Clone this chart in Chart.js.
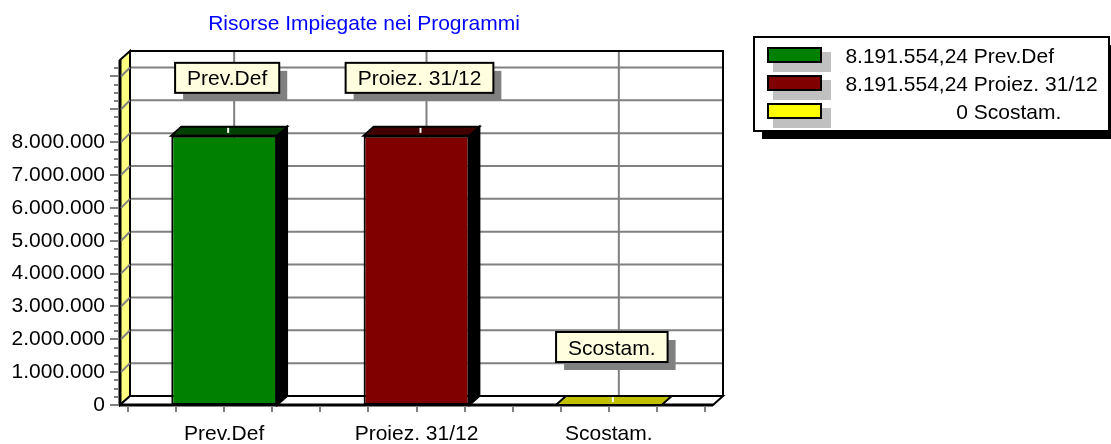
<!DOCTYPE html>
<html>
<head>
<meta charset="utf-8">
<script src="https://cdn.jsdelivr.net/npm/chart.js@4/dist/chart.umd.min.js"></script>
<style>
  html, body { margin: 0; padding: 0; background: #fff; }
  #wrap { width: 1111px; height: 444px; }
</style>
</head>
<body>
<div id="wrap"><canvas id="risorseChart" width="1111" height="444"></canvas></div>
<script>
const TITLE = 'Risorse Impiegate nei Programmi';
const categories = ['Prev.Def', 'Proiez. 31/12', 'Scostam.'];
const values = [8191554.24, 8191554.24, 0];
const frontColors = ['#008000', '#800000', '#ffff00'];
const topColors = ['#004000', '#400000', '#c0c000'];
const yMax = 10500000;
const yStep = 1000000;
const lastLabeledTick = 8000000;

const FONT = '"Liberation Sans", Arial, sans-serif';
const DX = 10, DY = -9;   // profondità 3D

// 8191554.24 -> "8.191.554,24"
function fmtIt(v, dec) {
  const parts = v.toFixed(dec).split('.');
  parts[0] = parts[0].replace(/\B(?=(\d{3})+(?!\d))/g, '.');
  return parts.join(',');
}

function poly(ctx, pts, fill, stroke, lw) {
  ctx.beginPath();
  ctx.moveTo(pts[0][0], pts[0][1]);
  for (let i = 1; i < pts.length; i++) ctx.lineTo(pts[i][0], pts[i][1]);
  ctx.closePath();
  if (fill) { ctx.fillStyle = fill; ctx.fill(); }
  if (stroke) { ctx.strokeStyle = stroke; ctx.lineWidth = lw || 2; ctx.stroke(); }
}

const box3d = {
  id: 'box3d',
  beforeDatasetsDraw(chart) {
    const { ctx, chartArea: a, scales: { x, y } } = chart;
    const fl = a.left - 8, fr = a.right + 8;
    const fb = y.getPixelForValue(0), ft = y.getPixelForValue(yMax);
    ctx.save();
    ctx.lineCap = 'butt';

    // parete di fondo
    ctx.fillStyle = '#fff';
    ctx.fillRect(fl + DX, ft + DY, fr - fl, fb - ft);

    // griglia orizzontale (fondo)
    ctx.strokeStyle = '#808080';
    ctx.lineWidth = 2;
    for (let v = yStep; v <= yMax; v += yStep) {
      const py = y.getPixelForValue(v);
      ctx.beginPath();
      ctx.moveTo(fl + DX, py + DY);
      ctx.lineTo(fr + DX, py + DY);
      ctx.stroke();
    }
    // griglia verticale
    categories.forEach((c, i) => {
      const px = x.getPixelForValue(i) + DX;
      ctx.beginPath();
      ctx.moveTo(px, ft + DY);
      ctx.lineTo(px, fb + DY);
      ctx.stroke();
    });

    // bordo parete di fondo
    ctx.strokeStyle = '#000';
    ctx.lineWidth = 2;
    ctx.beginPath();
    ctx.moveTo(fl + DX, ft + DY);
    ctx.lineTo(fr + DX, ft + DY);
    ctx.lineTo(fr + DX, fb + DY);
    ctx.stroke();

    // parete sinistra
    poly(ctx, [[fl, ft], [fl + DX, ft + DY], [fl + DX, fb + DY], [fl, fb]], '#ffff80', '#000', 2);
    ctx.lineWidth = 3;
    ctx.beginPath(); ctx.moveTo(fl, ft); ctx.lineTo(fl, fb); ctx.stroke();
    // griglia sulla parete sinistra
    ctx.strokeStyle = '#808080';
    ctx.lineWidth = 2;
    for (let v = yStep; v <= yMax; v += yStep) {
      const py = y.getPixelForValue(v);
      ctx.beginPath(); ctx.moveTo(fl + 1, py); ctx.lineTo(fl + DX, py + DY); ctx.stroke();
    }

    // pavimento
    poly(ctx, [[fl, fb], [fl + DX, fb + DY], [fr + DX, fb + DY], [fr, fb]], '#fff', '#000', 2);
    ctx.lineWidth = 3;
    ctx.beginPath(); ctx.moveTo(fl - 1, fb); ctx.lineTo(fr, fb); ctx.stroke();

    // tacche asse y
    ctx.strokeStyle = '#808080';
    ctx.lineWidth = 2;
    for (let v = 0; v < yMax; v += yStep / 4) {
      const py = Math.round(y.getPixelForValue(v));
      const len = v % yStep === 0 ? 10 : 6;
      ctx.beginPath(); ctx.moveTo(fl - len, py); ctx.lineTo(fl - 1, py); ctx.stroke();
    }
    // tacche asse x
    const catW = (a.right - a.left) / categories.length;
    const xt = [];
    categories.forEach((c, i) => {
      const left = x.getPixelForValue(i) - catW / 2;
      for (let k = 0; k < 4; k++) xt.push(left + k * catW / 4);
    });
    xt.push(a.right);
    xt.forEach(px => {
      ctx.beginPath(); ctx.moveTo(Math.round(px), fb + 2); ctx.lineTo(Math.round(px), fb + 7); ctx.stroke();
    });
    ctx.restore();
  },

  afterDatasetsDraw(chart) {
    const { ctx } = chart;
    const meta = chart.getDatasetMeta(0);
    ctx.save();
    meta.data.forEach((bar, i) => {
      const { x, y: top, base, width } = bar.getProps(['x', 'y', 'base', 'width'], true);
      const l = x - width / 2, r = x + width / 2;
      if (base - top > 1) {
        poly(ctx, [[r, top], [r + DX, top + DY], [r + DX, base + DY], [r, base]], '#000', '#000', 2);
      }
      poly(ctx, [[l, top], [l + DX, top + DY], [r + DX, top + DY], [r, top]], topColors[i], '#000', 2);
      // piccolo segno bianco sul tetto
      ctx.strokeStyle = '#fff';
      ctx.lineWidth = 2;
      ctx.beginPath(); ctx.moveTo(x + 4, top + DY + 1); ctx.lineTo(x + 4, top - 3); ctx.stroke();

      // etichetta
      ctx.font = '21px ' + FONT;
      const tw = ctx.measureText(categories[i]).width;
      const bw = tw + 24, bh = 30;
      const cx = x + 3;
      const by = top - 43 - bh, bx = cx - bw / 2;
      ctx.fillStyle = '#808080';
      ctx.fillRect(bx + 8, by + 8, bw, bh);
      ctx.fillStyle = '#ffffe0';
      ctx.fillRect(bx, by, bw, bh);
      ctx.strokeStyle = '#000';
      ctx.lineWidth = 2;
      ctx.strokeRect(bx, by, bw, bh);
      ctx.fillStyle = '#000';
      ctx.textAlign = 'center';
      ctx.textBaseline = 'alphabetic';
      ctx.fillText(categories[i], cx, by + bh / 2 + 7.5);
    });
    ctx.restore();
  },

  afterDraw(chart) {
    const { ctx } = chart;
    ctx.save();
    // titolo
    ctx.font = '21px ' + FONT;
    ctx.fillStyle = '#0000ff';
    ctx.textAlign = 'center';
    ctx.textBaseline = 'alphabetic';
    ctx.fillText(TITLE, 364, 29.5);

    // legenda
    const lx = 754, ly = 37, lw = 355, lh = 94;
    ctx.fillStyle = '#000';
    ctx.fillRect(lx + 8, ly + 8, lw, lh);
    ctx.fillStyle = '#fff';
    ctx.fillRect(lx, ly, lw, lh);
    ctx.strokeStyle = '#000';
    ctx.lineWidth = 2;
    ctx.strokeRect(lx, ly, lw, lh);
    categories.forEach((c, i) => {
      const cy = 55 + i * 28;
      ctx.fillStyle = '#c0c0c0';
      ctx.fillRect(773, cy - 3, 58, 20);
      ctx.fillStyle = frontColors[i];
      ctx.fillRect(768, cy - 7, 53, 14);
      ctx.strokeStyle = '#000';
      ctx.strokeRect(768, cy - 7, 53, 14);
      const v = values[i];
      const txt = Number.isInteger(v) ? fmtIt(v, 0) : fmtIt(v, 2);
      ctx.fillStyle = '#000';
      ctx.textAlign = 'right';
      ctx.fillText(txt, 968, cy + 7.5);
      ctx.textAlign = 'left';
      ctx.fillText(c, 968 + ctx.measureText(' ').width, cy + 7.5);
    });
    ctx.restore();
  }
};

const ctx = document.getElementById('risorseChart').getContext('2d');
new Chart(ctx, {
  type: 'bar',
  data: {
    labels: categories,
    datasets: [{
      data: values,
      backgroundColor: frontColors,
      borderColor: '#000',
      borderWidth: 2,
      borderSkipped: false,
      barPercentage: 0.55,
      categoryPercentage: 1
    }]
  },
  options: {
    responsive: false,
    animation: false,
    devicePixelRatio: 1,
    layout: { padding: { top: 60, right: 406, left: 0, bottom: 0 } },
    plugins: { legend: { display: false }, tooltip: { enabled: false } },
    scales: {
      x: {
        grid: { display: false },
        border: { display: false },
        ticks: { color: '#000', font: { family: FONT, size: 21 }, padding: 9, maxRotation: 0 },
        afterFit: s => { s.height = 39; }
      },
      y: {
        min: 0,
        max: yMax,
        grid: { display: false },
        border: { display: false },
        ticks: {
          color: '#000',
          font: { family: FONT, size: 21 },
          padding: 15,
          autoSkip: false,
          callback: v => (v <= lastLabeledTick ? fmtIt(v, 0) : '')
        },
        afterBuildTicks: s => {
          const t = [];
          for (let v = 0; v <= yMax; v += yStep) t.push({ value: v });
          s.ticks = t;
        },
        afterFit: s => { s.width = 128; }
      }
    }
  },
  plugins: [box3d]
});
</script>
</body>
</html>
